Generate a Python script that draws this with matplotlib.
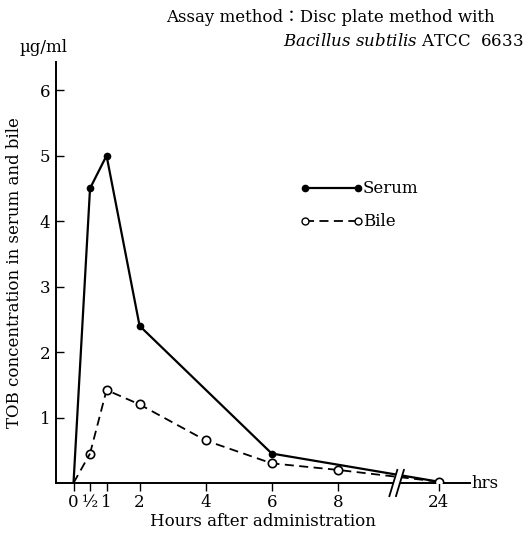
import numpy as np
import matplotlib.pyplot as plt
from matplotlib.patches import Polygon

plt.rcParams['font.family'] = ['DejaVu Serif', 'Noto Sans CJK JP']
plt.rcParams['mathtext.fontset'] = 'dejavuserif'

# data (hours after administration, ug/ml)
serum_hours = [0, 0.5, 1, 2, 6, 24]
serum_conc = [0, 4.5, 5.0, 2.4, 0.45, 0.02]
bile_hours = [0, 0.5, 1, 2, 4, 6, 8, 24]
bile_conc = [0, 0.45, 1.42, 1.2, 0.65, 0.3, 0.2, 0.02]
tick_hours = [0, 0.5, 1, 2, 4, 6, 8, 24]
tick_labels = ['0', '½', '1', '2', '4', '6', '8', '24']
y_ticks = [1, 2, 3, 4, 5, 6]


def pos(h):
    # broken axis: 24 h is drawn just past the break after 8 h
    h = np.asarray(h, dtype=float)
    return np.where(h > 10, 11.05, h)


fig = plt.figure(figsize=(5.27, 5.33), dpi=100)
ax = fig.add_axes([56 / 527, 50 / 533, (470 - 56) / 527, (483 - 62) / 533])
ax.set_xlim(-0.53, 12.0)
ax.set_ylim(0, 6.43)

ax.plot(pos(serum_hours[1:]), serum_conc[1:], color='black', lw=1.6,
        marker='o', ms=4.5, mfc='black', zorder=3)
ax.plot(pos(serum_hours[:2]), serum_conc[:2], color='black', lw=1.6, zorder=3)
ax.plot(pos(bile_hours[1:]), bile_conc[1:], color='black', lw=1.3, ls=(0, (5, 3)),
        marker='o', ms=6, mfc='white', mec='black', mew=1.2, zorder=4)
ax.plot(pos(bile_hours[:2]), bile_conc[:2], color='black', lw=1.3, ls=(0, (5, 3)), zorder=4)

for s in ['top', 'right']:
    ax.spines[s].set_visible(False)
for s in ['left', 'bottom']:
    ax.spines[s].set_linewidth(1.4)

ax.set_xticks(pos(tick_hours))
ax.set_xticklabels(tick_labels, fontsize=12)
ax.set_yticks(y_ticks)
ax.set_yticklabels([str(v) for v in y_ticks], fontsize=12)
ax.tick_params(axis='x', direction='out', length=6, width=1, pad=2)
ax.tick_params(axis='y', direction='in', length=6, width=1, pad=4)

# axis break marks
bx = 9.68
gap = 0.2
dx = 0.12
ax.add_patch(Polygon([[bx - dx, -0.2], [bx + dx, 0.2], [bx + dx + gap, 0.2], [bx - dx + gap, -0.2]],
                     closed=True, fc='white', ec='none', zorder=5, clip_on=False))
for off in [0, gap]:
    ax.plot([bx - dx + off, bx + dx + off], [-0.2, 0.2], color='black', lw=1.3,
            zorder=6, clip_on=False)

ax.text(12.05, 0, 'hrs', fontsize=12, va='center', ha='left')
ax.set_xlabel('Hours after administration', fontsize=12, labelpad=1)
ax.set_ylabel('TOB concentration in serum and bile', fontsize=12, labelpad=12)
fig.text(20 / 527, 1 - 48 / 533, 'µg/ml', fontsize=12, va='center', ha='left')

# legend drawn by hand
ax.plot([7.0, 8.6], [4.5, 4.5], color='black', lw=1.6, marker='o', ms=4.5, zorder=3)
ax.text(8.75, 4.5, 'Serum', fontsize=12, va='center', ha='left')
ax.plot([7.0, 8.6], [4.0, 4.0], color='black', lw=1.3, ls=(0, (5, 3)),
        marker='o', ms=5, mfc='white', mec='black', zorder=3)
ax.text(8.75, 4.0, 'Bile', fontsize=12, va='center', ha='left')

fig.text(166 / 527, 1 - 17 / 533, 'Assay method：Disc plate method with', fontsize=12,
         va='center', ha='left')
fig.text(523 / 527, 1 - 42 / 533, r'$\it{Bacillus\ subtilis}$ ATCC  6633', fontsize=12,
         va='center', ha='right')

fig.savefig('out.png', dpi=100)
